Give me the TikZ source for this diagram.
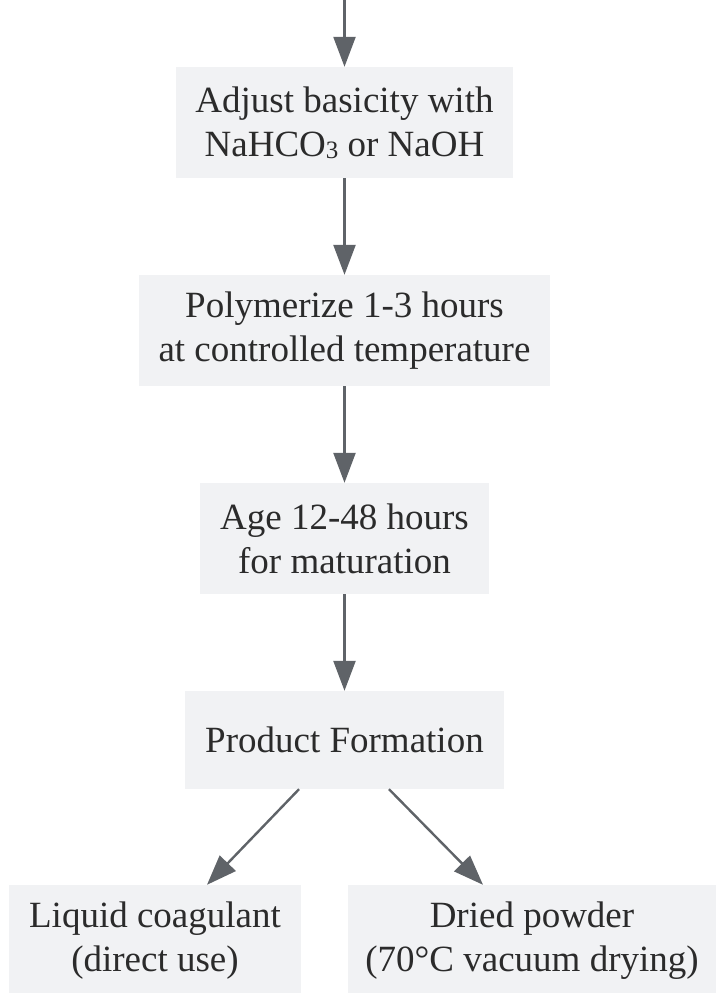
\documentclass[tikz,border=0pt]{standalone}
\usepackage{fontspec}
\setmainfont{Liberation Serif}
\usetikzlibrary{arrows.meta}
\definecolor{boxfill}{HTML}{F1F2F4}
\definecolor{edgecol}{HTML}{5F6368}
\definecolor{txtcol}{HTML}{2B2B2B}
\tikzset{
  stepbox/.style={rectangle, fill=boxfill, draw=none, inner sep=0pt,
    text=txtcol, align=center, minimum height=111pt,
    font=\fontsize{37pt}{44pt}\selectfont},
  flow/.style={draw=edgecol, line width=2.4pt,
    -{Triangle[length=30pt,width=22pt]}}
}
\begin{document}
\begin{tikzpicture}[x=1pt,y=-1pt]
\useasboundingbox (0,0) rectangle (716,993);
\clip (0,0) rectangle (716,993);
\node[stepbox, minimum width=337pt] (b1) at (344.5,122.5) {Adjust basicity with\\NaHCO\raisebox{-2pt}{\fontsize{25pt}{25pt}\selectfont 3} or NaOH};
\node[stepbox, minimum width=411pt] (b2) at (344.5,330.5) {Polymerize 1-3 hours\\at controlled temperature};
\node[stepbox, minimum width=289pt] (b3) at (344.5,538.5) {Age 12-48 hours\\for maturation};
\node[stepbox, minimum width=319pt, minimum height=98pt] (b4) at (344.5,740) {Product Formation};
\node[stepbox, minimum width=292pt] (b5) at (155,940.5) {Liquid coagulant\\(direct use)};
\node[stepbox, minimum width=368pt] (b6) at (532,940.5) {Dried powder\\(70°C vacuum drying)};
\coordinate (start) at (344.5,0);
\draw[flow] (start) -- (b1.north);
\draw[flow] (b1.south) -- (b2.north);
\draw[flow] (b2.south) -- (b3.north);
\draw[flow] (b3.south) -- (b4.north);
\draw[flow] ([xshift=-45.5pt]b4.south) -- ([xshift=52pt]b5.north);
\draw[flow] ([xshift=44.5pt]b4.south) -- ([xshift=-49pt]b6.north);
\end{tikzpicture}
\end{document}
